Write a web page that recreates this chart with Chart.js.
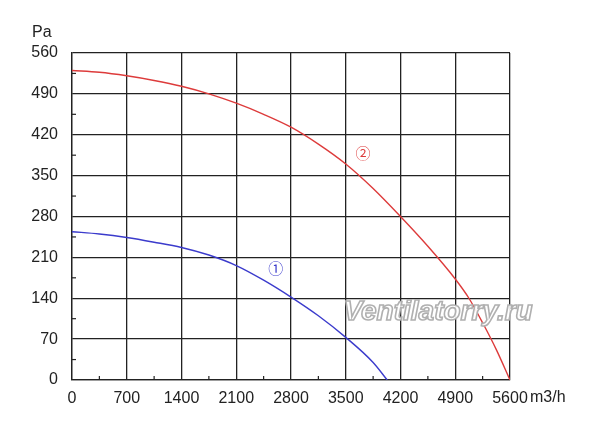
<!DOCTYPE html>
<html>
<head>
<meta charset="utf-8">
<script src="https://cdn.jsdelivr.net/npm/chart.js@4"></script>
<style>
  html, body { margin: 0; padding: 0; background: #fff; }
  #wrap { width: 600px; height: 426px; }
</style>
</head>
<body>
<div id="wrap"><canvas id="c" width="600" height="426"></canvas></div>
<script>
// Curve ① (blue)
const flow1 = [0, 350, 700, 1050, 1400, 1750, 2100, 2450, 2800, 3150, 3500, 3850, 4030];
const pressure1 = [254, 250, 244, 236, 227, 214, 196, 171, 142, 110, 73, 30, 0];
// Curve ② (red)
const flow2 = [0, 350, 700, 1050, 1400, 1750, 2100, 2450, 2800, 3150, 3500, 3850, 4200, 4550, 4900, 5075, 5250, 5425, 5600];
const pressure2 = [530, 527, 521, 513, 503, 490, 474, 455, 433, 404, 370, 328, 280, 229, 173, 140, 98, 52, 0];

const xTicks = [0, 700, 1400, 2100, 2800, 3500, 4200, 4900, 5600];
const yTicks = [0, 70, 140, 210, 280, 350, 420, 490, 560];
const xMinor = [350, 1050, 1750, 2450, 3150, 3850, 4550, 5250];
const yMinor = [35, 105, 175, 245, 315, 385, 455, 525];

const curveLabels = [
  { text: '\u2460', x: 2604, y: 192, color: '#3b3bcc' },
  { text: '\u2461', x: 3720, y: 389, color: '#dd3b3b' }
];
const xUnit = 'm3/h';
const yUnit = 'Pa';
const watermark = 'Ventilatorry.ru';

const FONT = '"Liberation Sans", Arial, sans-serif';

const extras = {
  id: 'extras',
  afterDraw(chart) {
    const ctx = chart.ctx;
    const xs = chart.scales.x, ys = chart.scales.y;
    const a = chart.chartArea;
    ctx.save();
    // minor ticks
    ctx.strokeStyle = '#222';
    ctx.lineWidth = 1.2;
    xMinor.forEach(v => {
      const px = xs.getPixelForValue(v);
      ctx.beginPath(); ctx.moveTo(px, a.bottom); ctx.lineTo(px, a.bottom - 4); ctx.stroke();
    });
    yMinor.forEach(v => {
      const py = ys.getPixelForValue(v);
      ctx.beginPath(); ctx.moveTo(a.left, py); ctx.lineTo(a.left + 4, py); ctx.stroke();
    });
    // unit labels
    ctx.fillStyle = '#222';
    ctx.font = '16px ' + FONT;
    ctx.textBaseline = 'middle';
    ctx.textAlign = 'left';
    ctx.fillText(xUnit, a.right + 20, a.bottom + 18);
    ctx.fillText(yUnit, a.left - 40, a.top - 20);
    // curve labels
    ctx.font = '15px "Noto Sans CJK JP", "DejaVu Sans", sans-serif';
    ctx.textAlign = 'center';
    curveLabels.forEach(l => {
      ctx.fillStyle = l.color;
      ctx.fillText(l.text, xs.getPixelForValue(l.x), ys.getPixelForValue(l.y));
    });
    // watermark
    ctx.font = 'italic bold 28px ' + FONT;
    ctx.textAlign = 'center';
    ctx.lineWidth = 1.6;
    ctx.strokeStyle = '#b0b0b0';
    ctx.fillStyle = 'rgba(255,255,255,0.9)';
    const wx = xs.getPixelForValue(4680), wy = ys.getPixelForValue(116);
    ctx.fillText(watermark, wx, wy);
    ctx.strokeText(watermark, wx, wy);
    ctx.restore();
  }
};

new Chart(document.getElementById('c'), {
  type: 'line',
  data: {
    datasets: [
      {
        label: '1',
        data: flow1.map((f, i) => ({ x: f, y: pressure1[i] })),
        borderColor: '#3b3bcc',
        borderWidth: 1.4,
        pointRadius: 0,
        cubicInterpolationMode: 'monotone',
        fill: false
      },
      {
        label: '2',
        data: flow2.map((f, i) => ({ x: f, y: pressure2[i] })),
        borderColor: '#dd3b3b',
        borderWidth: 1.4,
        pointRadius: 0,
        cubicInterpolationMode: 'monotone',
        fill: false
      }
    ]
  },
  options: {
    responsive: false,
    animation: false,
    devicePixelRatio: 1,
    layout: { padding: { top: 53, right: 90, left: 0, bottom: 0 } },
    plugins: { legend: { display: false }, tooltip: { enabled: false } },
    scales: {
      x: {
        type: 'linear',
        min: 0, max: 5600,
        afterBuildTicks: s => { s.ticks = xTicks.map(v => ({ value: v })); },
        afterFit: s => { s.height = 46; },
        ticks: { color: '#222', font: { size: 16, family: FONT }, padding: 9, maxRotation: 0, callback: v => String(v) },
        grid: { color: '#222', lineWidth: 1.3, drawTicks: false },
        border: { color: '#222', width: 1.3 }
      },
      y: {
        type: 'linear',
        min: 0, max: 560,
        afterBuildTicks: s => { s.ticks = yTicks.map(v => ({ value: v })); },
        afterFit: s => { s.width = 72; },
        ticks: { color: '#222', font: { size: 16, family: FONT }, padding: 14, callback: v => String(v) },
        grid: { color: '#222', lineWidth: 1.3, drawTicks: false },
        border: { color: '#222', width: 1.3 }
      }
    }
  },
  plugins: [extras]
});
</script>
</body>
</html>
